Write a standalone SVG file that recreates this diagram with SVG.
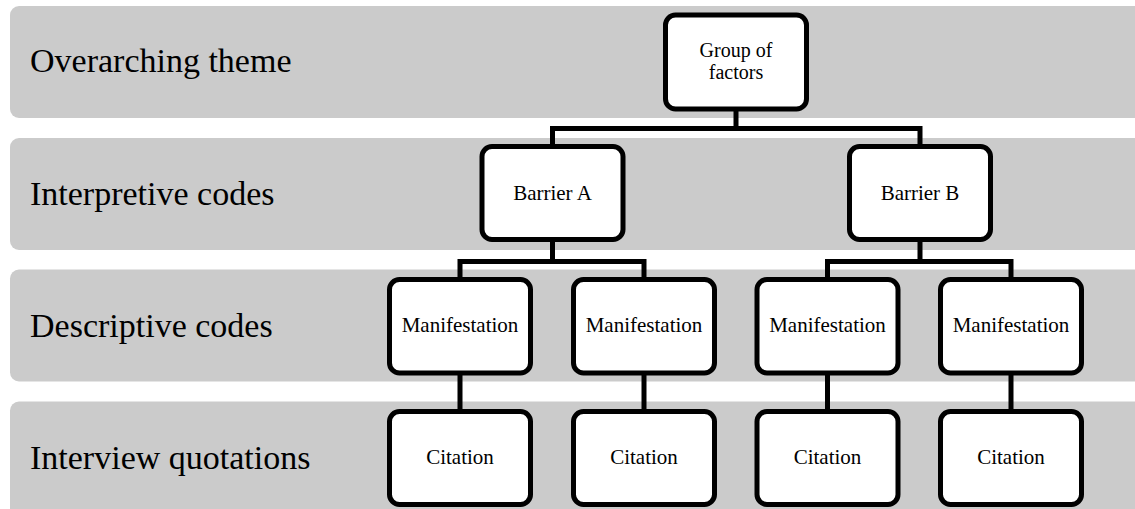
<svg xmlns="http://www.w3.org/2000/svg" width="1135" height="509" viewBox="0 0 1135 509">
<style>
.band{fill:#cbcbcb}
.lbl{font-family:"Liberation Serif","Times New Roman",serif;font-size:34px;fill:#000}
.box{fill:#fff;stroke:#000;stroke-width:5}
.t{font-family:"Liberation Serif","Times New Roman",serif;font-size:21px;fill:#000;text-anchor:middle}
.con{fill:none;stroke:#000;stroke-width:5}
</style>
<rect width="1135" height="509" fill="#fff"/>
<g id="bands">
<rect class="band" x="10" y="6" width="1140" height="112" rx="9"/>
<rect class="band" x="10" y="138" width="1140" height="112" rx="9"/>
<rect class="band" x="10" y="269.5" width="1140" height="112" rx="9"/>
<rect class="band" x="10" y="401.5" width="1140" height="120" rx="9"/>
<text class="lbl" x="30" y="72">Overarching theme</text>
<text class="lbl" x="30" y="205">Interpretive codes</text>
<text class="lbl" x="30" y="337">Descriptive codes</text>
<text class="lbl" x="30" y="469">Interview quotations</text>
</g>
<g id="connectors">
<path class="con" d="M736 109V128.5M552.5 146.5V128.5H920V146.5"/>
<path class="con" d="M552.5 239.5V261.5M460 279.5V261.5H644V279.5"/>
<path class="con" d="M920 239.5V261.5M827.5 279.5V261.5H1011V279.5"/>
<path class="con" d="M460 373V411.5M644 373V411.5M827.5 373V411.5M1011 373V411.5"/>
</g>
<g id="group">
<rect class="box" x="665.5" y="15" width="141" height="94" rx="10"/>
<text class="t" x="736" y="57" style="font-size:20px">Group of</text>
<text class="t" x="736" y="79" style="font-size:20px">factors</text>
</g>
<g id="barrierA">
<rect class="box" x="482" y="146.5" width="141" height="93" rx="10"/>
<text class="t" x="552.5" y="200">Barrier A</text>
</g>
<g id="barrierB">
<rect class="box" x="849.5" y="146.5" width="141" height="93" rx="10"/>
<text class="t" x="920" y="200">Barrier B</text>
</g>
<g id="man1"><rect class="box" x="389.5" y="279.5" width="141" height="93.5" rx="10"/><text class="t" x="460" y="332">Manifestation</text></g>
<g id="man2"><rect class="box" x="573.5" y="279.5" width="141" height="93.5" rx="10"/><text class="t" x="644" y="332">Manifestation</text></g>
<g id="man3"><rect class="box" x="757" y="279.5" width="141" height="93.5" rx="10"/><text class="t" x="827.5" y="332">Manifestation</text></g>
<g id="man4"><rect class="box" x="940.5" y="279.5" width="141" height="93.5" rx="10"/><text class="t" x="1011" y="332">Manifestation</text></g>
<g id="cit1"><rect class="box" x="389.5" y="411.5" width="141" height="93" rx="10"/><text class="t" x="460" y="464">Citation</text></g>
<g id="cit2"><rect class="box" x="573.5" y="411.5" width="141" height="93" rx="10"/><text class="t" x="644" y="464">Citation</text></g>
<g id="cit3"><rect class="box" x="757" y="411.5" width="141" height="93" rx="10"/><text class="t" x="827.5" y="464">Citation</text></g>
<g id="cit4"><rect class="box" x="940.5" y="411.5" width="141" height="93" rx="10"/><text class="t" x="1011" y="464">Citation</text></g>
</svg>
